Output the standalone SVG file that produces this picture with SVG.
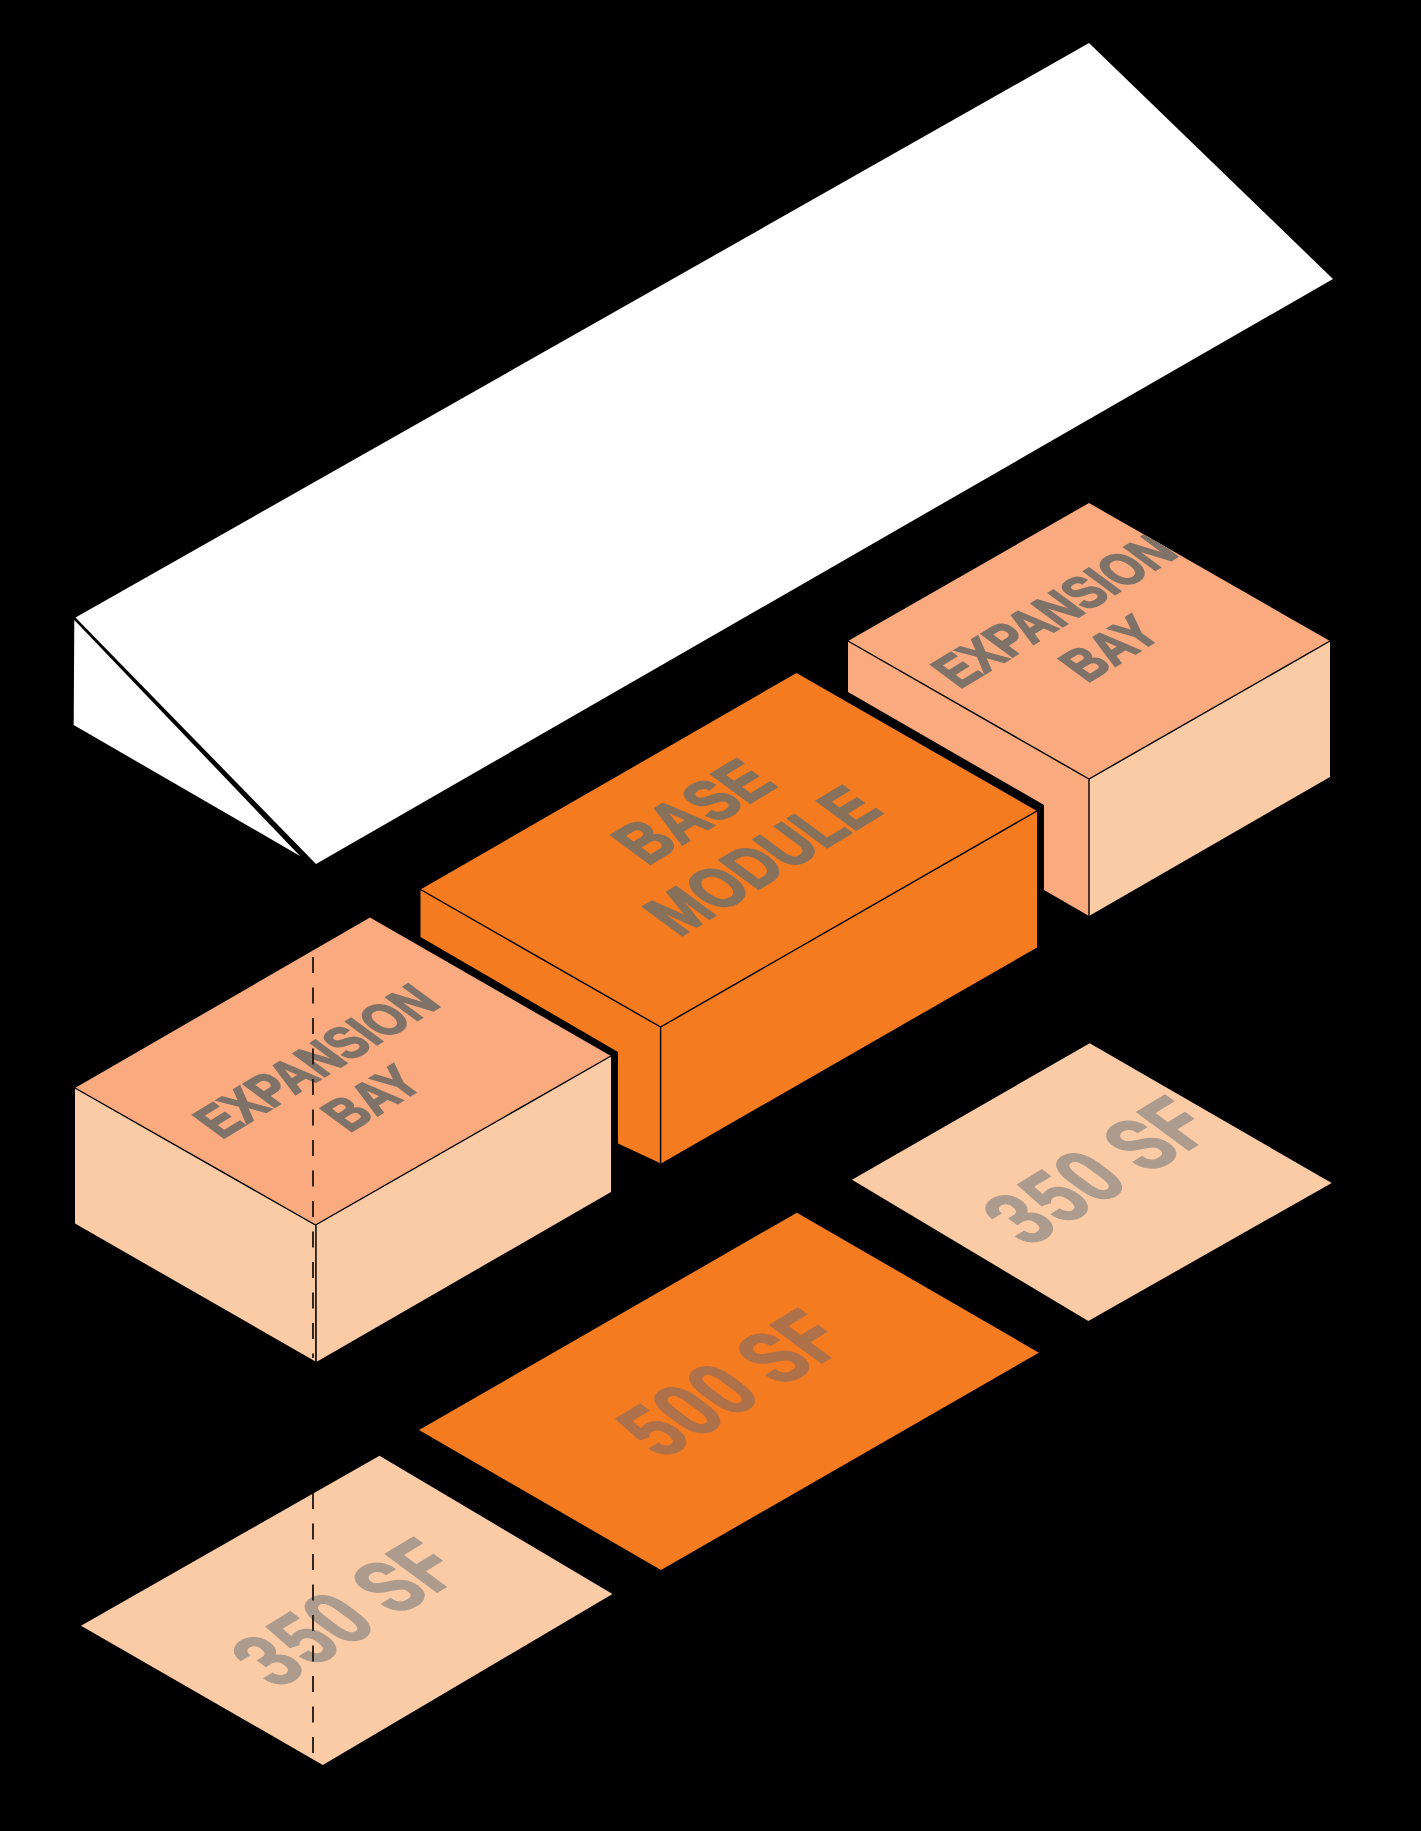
<svg xmlns="http://www.w3.org/2000/svg" width="1421" height="1831" viewBox="0 0 1421 1831">
<defs>
<clipPath id="face-right"><polygon points="1089,503 1330,641 1089,779 848,641"/></clipPath>
</defs>
<style>
.w{fill:#fff}.o{fill:#f47b20}.l{fill:#fbcba6}.m{fill:#f9aa7e}
.e{stroke:#000;stroke-width:1.4;fill:none}
.d{stroke:#1e1610;stroke-width:1.8;fill:none;stroke-dasharray:16 14.500}
text{font-family:"Liberation Sans",Arial,sans-serif;font-weight:700;stroke-linejoin:miter}
.t{font-size:40px;fill:#7f7268;stroke:#7f7268;stroke-width:1.500}
.b{font-size:50px;fill:#87715a;stroke:#87715a;stroke-width:1.800}
.n{font-family:Roboto,"Liberation Sans",sans-serif;font-size:64px}
.g{fill:#ad9c8e;stroke:#ad9c8e;stroke-width:1.200}
.h{fill:#ae7149;stroke:#ae7149;stroke-width:1.200}
</style>
<rect width="1421" height="1831" fill="#000"/>
<g id="roof">
<polygon class="w" points="1089,43 1333,279 316,864 75.500,617.500"/>
<polygon class="w" points="74.300,620 73.700,725 300,856"/>
</g>
<g id="box-right">
<polygon class="m" points="1089,503 1330,641 1089,779 848,641"/>
<polygon class="m" points="848,641 1089,779 1089,916 1044,890 1044,805 848,692"/>
<polygon class="l" points="1089,779 1330,641 1330,777 1089,916"/>
<path class="e" d="M848,641 1089,779 1330,641M1089,779V916"/>
<g clip-path="url(#face-right)"><text class="t" transform="matrix(.948,-.577,1.134,.836,959.500,689.300)">EXPANSION</text></g>
<text class="t" transform="matrix(.948,-.577,1.134,.836,1086.900,683.300)">BAY</text>
</g>
<g id="box-base">
<polygon class="o" points="796.500,673 1037,811 1037,947.500 661,1163.500 618,1143.500 618,1052 420.500,937 420.500,889.500"/>
<path class="e" d="M420.500,889.500 660.600,1027 1037,811M660.600,1027V1163.500"/>
<text class="b" transform="matrix(.948,-.577,1.134,.836,647,866)">BASE</text>
<text class="b" transform="matrix(.948,-.577,1.134,.836,679,937.500)">MODULE</text>
</g>
<g id="box-left">
<polygon class="m" points="370,917.500 611,1056 315.500,1225 75,1088"/>
<polygon class="l" points="75,1088 315.500,1225 315.500,1361.500 75,1223.500"/>
<polygon class="l" points="315.500,1225 611,1056 611,1192 316.300,1362"/>
<path class="e" d="M75,1088 315.500,1225 611,1056M316,1225V1362"/>
<text class="t" transform="matrix(.948,-.577,1.134,.836,221.500,1139.500)">EXPANSION</text>
<text class="t" transform="matrix(.948,-.577,1.134,.836,349,1133)">BAY</text>
<path class="d" d="M313,957V1358"/>
</g>
<g id="floor-right">
<polygon class="l" points="1089.700,1043.300 1331.700,1183 1088.300,1321 852,1179.700"/>
<text class="n g" transform="matrix(.948,-.577,1.134,.836,1028,1248)">350 SF</text>
</g>
<g id="floor-base">
<polygon class="o" points="796.900,1212.700 1038.900,1352.700 661,1570 419,1430"/>
<text class="n h" transform="matrix(.948,-.577,1.134,.836,661,1461)">500 SF</text>
</g>
<g id="floor-left">
<polygon class="l" points="379.500,1455.700 612.500,1594 322.800,1765 81,1625.700"/>
<text class="n g" transform="matrix(.948,-.577,1.134,.836,276.500,1690)">350 SF</text>
<path class="d" d="M313,1493V1761"/>
</g>
<g id="connectors"></g>
</svg>
